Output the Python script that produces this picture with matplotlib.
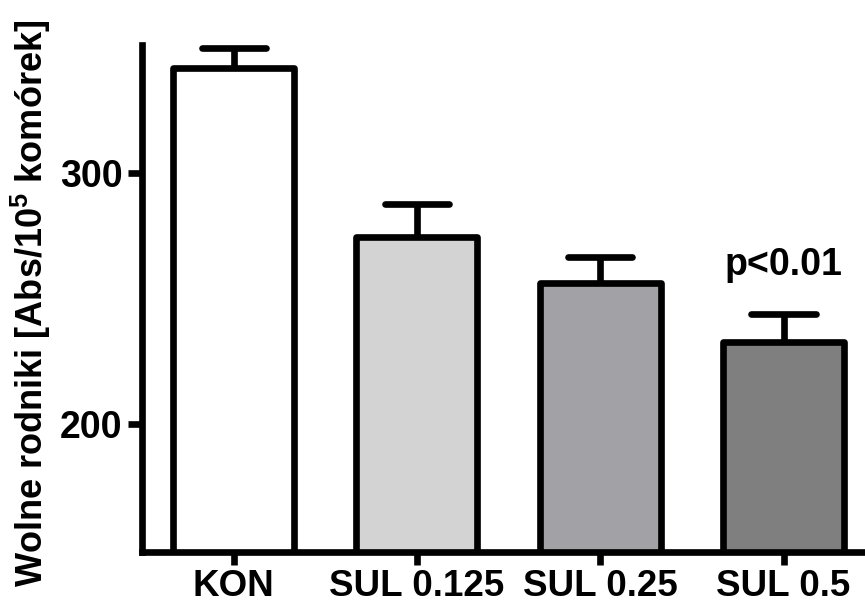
import matplotlib
matplotlib.use('Agg')
import numpy as np
import matplotlib.pyplot as plt

plt.rcParams['font.family'] = ['Liberation Sans', 'DejaVu Sans']
plt.rcParams['font.weight'] = 'bold'
plt.rcParams['mathtext.fontset'] = 'custom'
plt.rcParams['mathtext.bf'] = 'Liberation Sans:bold'
plt.rcParams['mathtext.rm'] = 'Liberation Sans:bold'
plt.rcParams['mathtext.default'] = 'bf'

# dane
grupy = ['KON', 'SUL 0.125', 'SUL 0.25', 'SUL 0.5']
srednie = [342.0, 274.5, 256.0, 232.5]
bledy = [8.0, 13.0, 10.5, 11.5]
kolory = ['#ffffff', '#d3d3d3', '#a2a1a6', '#7f7f7f']
yticks = [200, 300]

lw = 4.8

fig = plt.figure(figsize=(8.65, 6.09), dpi=100)
ax = fig.add_axes([142 / 865, 57 / 609, 724 / 865, 507 / 609])

x = np.arange(len(grupy))
bary = ax.bar(x, srednie, width=0.66, color=kolory, edgecolor='black',
              linewidth=lw, zorder=3)
for b in bary:
    b.set_joinstyle('round')

# słupki błędów tylko w górę
cap = 0.175
for xi, m, e in zip(x, srednie, bledy):
    ax.plot([xi, xi], [m, m + e], color='black', lw=lw, zorder=2,
            solid_capstyle='butt', clip_on=False)
    ax.plot([xi - cap, xi + cap], [m + e, m + e], color='black', lw=lw,
            zorder=2, solid_capstyle='round', clip_on=False)

ax.text(3, 259.5, 'p<0.01', ha='center', va='baseline', fontsize=27,
        fontweight='bold')

ax.set_xlim(-0.5, 3.45)
ax.set_ylim(149, 351)
ax.set_yticks(yticks)
ax.set_xticks(x)
ax.set_xticklabels(grupy)

for s in ['top', 'right']:
    ax.spines[s].set_visible(False)
for s in ['left', 'bottom']:
    ax.spines[s].set_linewidth(lw)
    ax.spines[s].set_capstyle('projecting')
    ax.spines[s].set_zorder(4)

ax.tick_params(axis='y', length=10, width=lw, pad=4, labelsize=27)
ax.tick_params(axis='x', length=9, width=lw, pad=3, labelsize=26.5)

fig.text(31 / 865, 1 - 303 / 609, r'Wolne rodniki [Abs/10$^5$ komórek]',
         rotation=90, ha='center', va='center', fontsize=26,
         fontweight='bold')

fig.savefig('out.png', dpi=100)
